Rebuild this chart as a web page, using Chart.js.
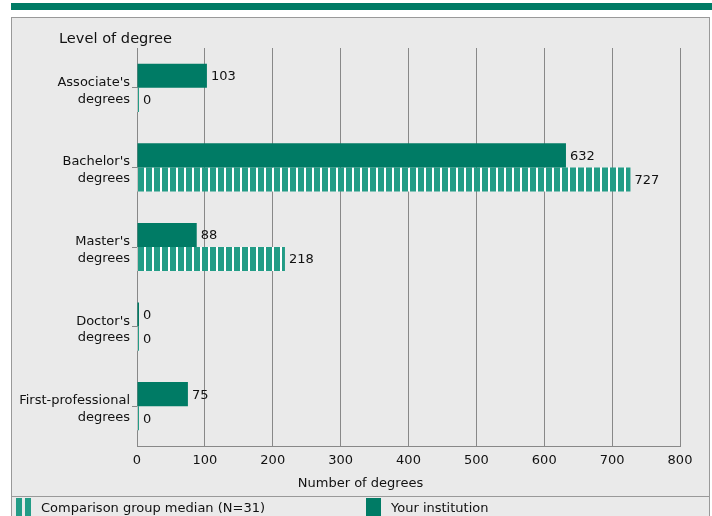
<!DOCTYPE html>
<html>
<head>
<meta charset="utf-8">
<script src="https://cdn.jsdelivr.net/npm/chart.js@4/dist/chart.umd.min.js"></script>
<style>
  body { margin: 0; background: #fff; font-family: "DejaVu Sans", Verdana, sans-serif; }
  #band { position: absolute; left: 11px; top: 3px; width: 701px; height: 7px; background: #007b65; }
  #panel { position: absolute; left: 11px; top: 17px; width: 697px; height: 499px;
           background: #eaeaea; border: 1px solid #999; border-bottom: none; }
  #title { position: absolute; left: 47px; top: 11px; font-size: 14.6px; color: #111; }
  #xtitle { position: absolute; left: 0; width: 697px; top: 457px; text-align: center; font-size: 13px; color: #111; }
  #wrap { position: absolute; left: 0; top: 0; width: 697px; height: 478px; }
  #legend { position: absolute; left: 0; top: 478px; width: 697px; height: 21px; border-top: 1px solid #999; }
  .item { position: absolute; top: 3px; font-size: 13px; color: #111; line-height: 16px; }
  .icon { position: absolute; top: 1px; width: 15px; height: 18px; }
</style>
</head>
<body>
<div id="band"></div>
<div id="panel">
  <div id="wrap"><canvas id="degreeChart"></canvas></div>
  <div id="title">Level of degree</div>
  <div id="xtitle">Number of degrees</div>
  <div id="legend">
    <div class="icon" style="left:4px;background:linear-gradient(90deg,#239c86 0 6px,#eaeaea 6px 9px,#239c86 9px 15px)"></div>
    <div class="item" style="left:29px">Comparison group median (N=31)</div>
    <div class="icon" style="left:354px;background:#007b65"></div>
    <div class="item" style="left:379px">Your institution</div>
  </div>
</div>
<script>
const categories = [["Associate's", "degrees"], ["Bachelor's", "degrees"], ["Master's", "degrees"], ["Doctor's", "degrees"], ["First-professional", "degrees"]];
const yourInstitution = [103, 632, 88, 0, 75];
const comparisonMedian = [0, 727, 218, 0, 0];
const xTicks = [0, 100, 200, 300, 400, 500, 600, 700, 800];

const solid = '#007b65';
const light = '#239c86';
const gridColor = '#888';

// vertical white stripes for the comparison bars
function stripes() {
  const c = document.createElement('canvas');
  c.width = 8; c.height = 8;
  const g = c.getContext('2d');
  g.fillStyle = light;
  g.fillRect(0, 0, 8, 8);
  g.fillStyle = '#ffffff';
  g.fillRect(4, 0, 2, 8);
  return g.createPattern(c, 'repeat');
}

const valueLabels = {
  id: 'valueLabels',
  afterDatasetsDraw(chart) {
    const ctx = chart.ctx;
    ctx.save();
    ctx.font = '13px "DejaVu Sans"';
    ctx.fillStyle = '#111';
    ctx.textBaseline = 'middle';
    ctx.textAlign = 'left';
    chart.data.datasets.forEach((ds, i) => {
      chart.getDatasetMeta(i).data.forEach((bar, j) => {
        ctx.fillText(String(ds.data[j]), bar.x + 4, bar.y + 1);
      });
    });
    ctx.restore();
  }
};

Chart.defaults.font.family = '"DejaVu Sans", Verdana, sans-serif';
Chart.defaults.font.size = 13;
Chart.defaults.color = '#111';

new Chart(document.getElementById('degreeChart'), {
  type: 'bar',
  data: {
    labels: categories,
    datasets: [{
      label: 'Your institution',
      data: yourInstitution,
      backgroundColor: solid,
      minBarLength: 2
    }, {
      label: 'Comparison group median (N=31)',
      data: comparisonMedian,
      backgroundColor: stripes(),
      minBarLength: 2
    }]
  },
  options: {
    indexAxis: 'y',
    responsive: true,
    maintainAspectRatio: false,
    animation: false,
    devicePixelRatio: 1,
    categoryPercentage: 0.605,
    barPercentage: 1,
    layout: { padding: { top: 30, right: 29, left: 0, bottom: 0 } },
    plugins: { legend: { display: false }, tooltip: { enabled: false } },
    scales: {
      x: {
        min: 0, max: 800,
        afterBuildTicks: s => { s.ticks = xTicks.map(v => ({ value: v })); },
        afterFit: s => { s.height = 50; },
        grid: { color: gridColor, drawTicks: false },
        border: { display: true, color: gridColor },
        ticks: { padding: 7, color: '#111' }
      },
      y: {
        afterFit: s => { s.width = 125; },
        grid: { offset: false, drawOnChartArea: false, tickLength: 5, color: gridColor },
        border: { display: true, color: gridColor },
        ticks: { padding: 2, color: '#111', labelOffset: 3, font: { lineHeight: 1.3 } }
      }
    }
  },
  plugins: [valueLabels]
});
</script>
</body>
</html>
